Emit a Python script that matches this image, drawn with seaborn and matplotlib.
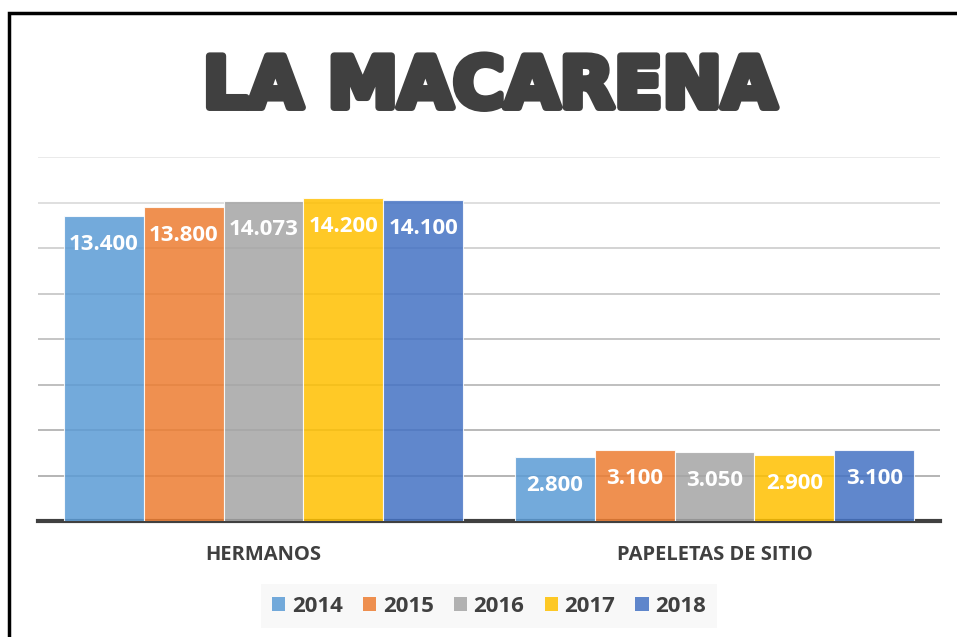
import matplotlib
matplotlib.use("Agg")
import matplotlib.pyplot as plt
import matplotlib.patheffects as pe
from matplotlib.patches import Rectangle
import numpy as np
import pandas as pd
import seaborn as sns

# data
CATEGORIES = ["HERMANOS", "PAPELETAS DE SITIO"]
YEARS = ["2014", "2015", "2016", "2017", "2018"]
HERMANOS = [13400, 13800, 14073, 14200, 14100]
PAPELETAS = [2800, 3100, 3050, 2900, 3100]
GRID_TICKS = [2000, 4000, 6000, 8000, 10000, 12000, 14000, 16000]

COLORS = ["#5B9BD5", "#ED7D31", "#A5A5A5", "#FFC000", "#4472C4"]
DARK = "#404040"

rows = []
for cat, vals in zip(CATEGORIES, [HERMANOS, PAPELETAS]):
    for yr, v in zip(YEARS, vals):
        rows.append({"cat": cat, "year": yr, "val": v})
df = pd.DataFrame(rows)

sns.set_style("white")
plt.rcParams["font.family"] = ["Open Sans", "DejaVu Sans"]

fig = plt.figure(figsize=(9.57, 6.37), dpi=100)
fig.patch.set_facecolor("white")
ax = fig.add_axes([38 / 957, 1 - 521 / 637, 902 / 957, 364 / 637])

sns.barplot(
    data=df, x="cat", y="val", hue="year", palette=COLORS, saturation=1,
    width=0.885, alpha=0.85, edgecolor="white", linewidth=0.8,
    errorbar=None, ax=ax, zorder=3,
)

ax.set_ylim(0, 16000)
ax.set_xlim(-0.5, 1.5)
ax.set_yticks(GRID_TICKS)
ax.set_yticklabels([])
ax.tick_params(axis="both", length=0)
ax.grid(axis="y", lw=1.1, zorder=0)
grid_cols = ["#A0A0A0", "#A6A6A6", "#ADADAD", "#B5B5B5",
             "#BEBEBE", "#C8C8C8", "#D6D6D6", "#E4E4E4"]
for gl, c in zip(ax.get_ygridlines(), grid_cols):
    gl.set_color(c)
ax.set_axisbelow(True)
for s in ["top", "right", "left"]:
    ax.spines[s].set_visible(False)
ax.spines["bottom"].set_color(DARK)
ax.spines["bottom"].set_linewidth(3)
ax.set_xlabel("")
ax.set_ylabel("")
ax.set_xticks([0, 1])
ax.set_xticklabels(CATEGORIES, fontsize=14.5, fontweight="bold", color=DARK)
ax.tick_params(axis="x", pad=17)

# value labels inside bar tops
for cont in ax.containers:
    labels = [f"{int(b.get_height()):,}".replace(",", ".") for b in cont]
    ax.bar_label(cont, labels=labels, label_type="edge", padding=-28,
                 color="white", fontsize=16, fontweight="bold")

# legend
ax.legend_.remove()
handles = [Rectangle((0, 0), 1, 1, fc=c, alpha=0.85, ec="none") for c in COLORS]
leg = fig.legend(handles, YEARS, loc="center", bbox_to_anchor=(489 / 957, 1 - 606 / 637),
                 ncol=5, frameon=True, handlelength=0.6, handleheight=0.6,
                 handletextpad=0.3, columnspacing=0.9, borderpad=0.5,
                 prop={"weight": "bold", "size": 16})
leg.get_frame().set_facecolor("#F7F7F7")
leg.get_frame().set_edgecolor("none")
leg.get_frame().set_boxstyle("square", pad=0)
for t in leg.get_texts():
    t.set_color(DARK)

# title
fig.text(490 / 957, 1 - 88 / 637, "LA MACARENA", ha="center", va="center",
         fontsize=51, fontweight="heavy", family=["DejaVu Sans"], color=DARK,
         path_effects=[pe.withStroke(linewidth=5, foreground=DARK)])

# outer border
fig.patches.append(Rectangle((9 / 957, -0.05), 1.0, 1 - 13 / 637 + 0.05,
                             transform=fig.transFigure, fill=False,
                             ec="black", lw=2.5, zorder=10))

fig.savefig("out.png", dpi=100)
